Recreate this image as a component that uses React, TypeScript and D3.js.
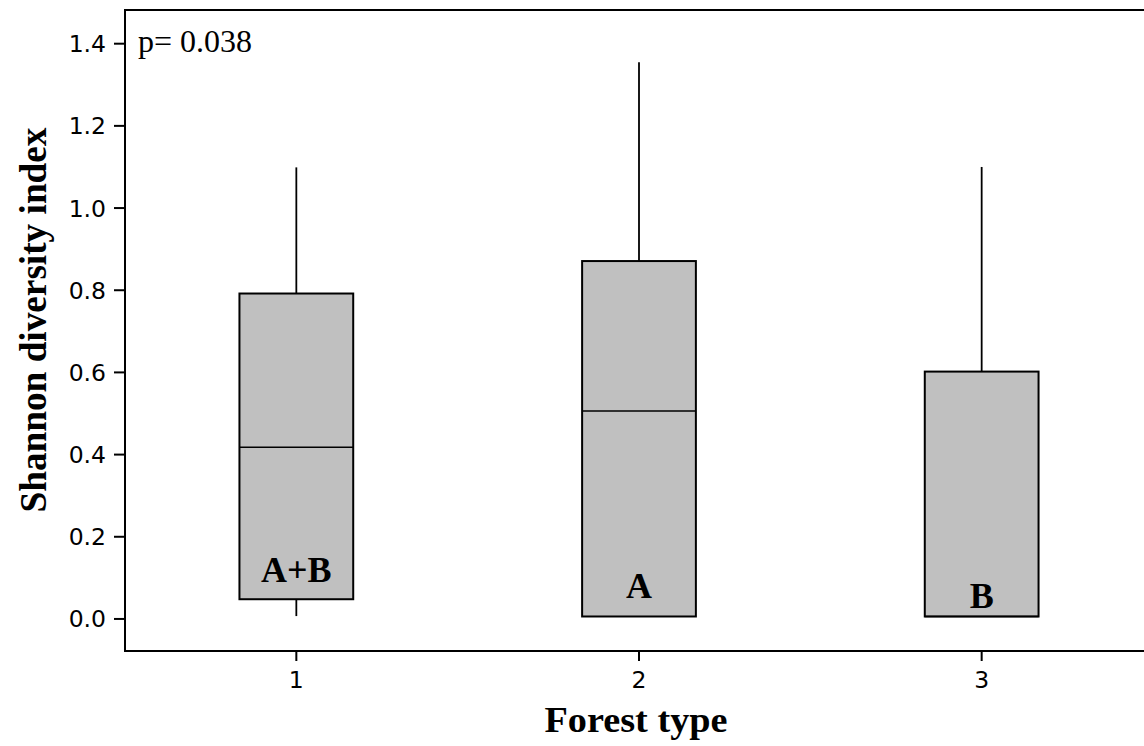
import React from "react";
import * as d3 from "d3";

// Shannon diversity per forest type, summarised as box-plot statistics
const forestTypes = [1, 2, 3];
const whiskerLow = [0.007, 0.006, 0.006];
const quartile1 = [0.048, 0.006, 0.006];
const medians = [0.418, 0.506, 0.006];
const quartile3 = [0.792, 0.871, 0.602];
const whiskerHigh = [1.099, 1.355, 1.1];

// Significance letters and the value at which each sits
const groupLetters = ["A+B", "A", "B"];
const letterLevels = [0.09, 0.051, 0.027];

const yTicks = [0.0, 0.2, 0.4, 0.6, 0.8, 1.0, 1.2, 1.4];
const pLabel = "p= 0.038";

const W = 1144;
const H = 746;

export default function App() {
  const x = d3.scaleLinear().domain([0.5, 3.5]).range([125, 1153]);
  const y = d3.scaleLinear().domain([-0.078, 1.482]).range([651, 10]);
  const step = x(2) - x(1);
  const boxW = step * 0.332;

  const serif = "'Liberation Serif', 'Times New Roman', serif";
  const sans = "'DejaVu Sans', Verdana, sans-serif";

  return (
    <svg
      width={W}
      height={H}
      style={{ position: "absolute", left: 0, top: 0, background: "#fff" }}
    >
      {/* boxes */}
      {forestTypes.map((t, i) => {
        const cx = x(t);
        return (
          <g key={t}>
            {whiskerHigh[i] > quartile3[i] && (
              <line
                x1={cx}
                x2={cx}
                y1={y(quartile3[i])}
                y2={y(whiskerHigh[i])}
                stroke="#000"
                strokeWidth={1.8}
              />
            )}
            {whiskerLow[i] < quartile1[i] - 0.002 && (
              <line
                x1={cx}
                x2={cx}
                y1={y(quartile1[i])}
                y2={y(whiskerLow[i])}
                stroke="#000"
                strokeWidth={1.8}
              />
            )}
            <rect
              x={cx - boxW / 2}
              y={y(quartile3[i])}
              width={boxW}
              height={y(quartile1[i]) - y(quartile3[i])}
              fill="#c0c0c0"
              stroke="#000"
              strokeWidth={2}
            />
            <line
              x1={cx - boxW / 2}
              x2={cx + boxW / 2}
              y1={y(medians[i])}
              y2={y(medians[i])}
              stroke="#000"
              strokeWidth={1.6}
            />
            <text
              x={cx}
              y={y(letterLevels[i])}
              textAnchor="middle"
              fontFamily={serif}
              fontWeight="bold"
              fontSize={36}
            >
              {groupLetters[i]}
            </text>
          </g>
        );
      })}

      {/* frame */}
      <rect
        x={x(0.5)}
        y={y(1.482)}
        width={x(3.5) - x(0.5)}
        height={y(-0.078) - y(1.482)}
        fill="none"
        stroke="#000"
        strokeWidth={2}
      />

      {/* y axis ticks and labels */}
      {yTicks.map((v) => (
        <g key={v}>
          <line
            x1={x(0.5) - 11}
            x2={x(0.5)}
            y1={y(v)}
            y2={y(v)}
            stroke="#000"
            strokeWidth={2}
          />
          <text
            x={x(0.5) - 19}
            y={y(v)}
            dy="0.36em"
            textAnchor="end"
            fontFamily={sans}
            fontSize={23.5}
          >
            {d3.format(".1f")(v)}
          </text>
        </g>
      ))}

      {/* x axis ticks and labels */}
      {forestTypes.map((t) => (
        <g key={t}>
          <line
            x1={x(t)}
            x2={x(t)}
            y1={y(-0.078)}
            y2={y(-0.078) + 10}
            stroke="#000"
            strokeWidth={2}
          />
          <text
            x={x(t)}
            y={688}
            textAnchor="middle"
            fontFamily={sans}
            fontSize={23.5}
          >
            {t}
          </text>
        </g>
      ))}

      {/* p-value */}
      <text
        x={138}
        y={52}
        fontFamily={serif}
        fontSize={31}
        textLength={114}
        lengthAdjust="spacingAndGlyphs"
      >
        {pLabel}
      </text>

      {/* axis titles */}
      <text
        x={636}
        y={732}
        textAnchor="middle"
        fontFamily={serif}
        fontWeight="bold"
        fontSize={35}
        textLength={183}
        lengthAdjust="spacingAndGlyphs"
      >
        Forest type
      </text>
      <text
        transform={`translate(46, 320) rotate(-90)`}
        textAnchor="middle"
        fontFamily={serif}
        fontWeight="bold"
        fontSize={38}
        textLength={385}
        lengthAdjust="spacingAndGlyphs"
      >
        Shannon diversity index
      </text>
    </svg>
  );
}
